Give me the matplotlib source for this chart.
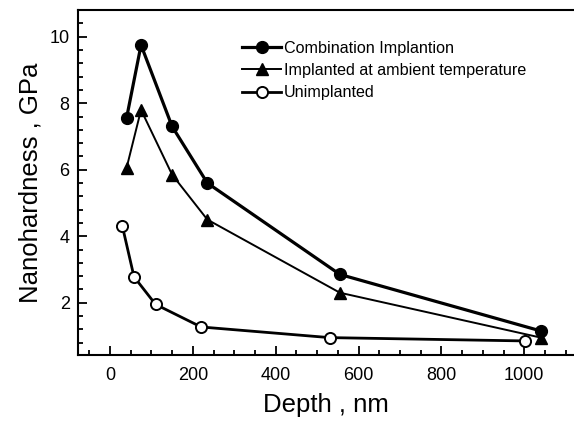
import matplotlib
matplotlib.use("Agg")
import matplotlib.pyplot as plt
from matplotlib.ticker import MultipleLocator

# data
depth_comb = [40, 75, 150, 235, 555, 1040]
hard_comb = [7.55, 9.75, 7.3, 5.6, 2.85, 1.15]

depth_amb = [40, 75, 150, 235, 555, 1040]
hard_amb = [6.05, 7.8, 5.85, 4.5, 2.3, 0.95]

depth_unimp = [30, 58, 110, 220, 530, 1002]
hard_unimp = [4.3, 2.78, 1.95, 1.27, 0.95, 0.85]


def main():
    plt.rcParams['font.family'] = ['Liberation Sans', 'DejaVu Sans']

    fig = plt.figure(figsize=(5.74, 4.21), dpi=100)
    ax = fig.add_axes([0.136, 0.157, 0.864, 0.819])

    ax.plot(depth_comb, hard_comb, color='black', lw=2.3, marker='o',
            ms=8.5, mfc='black', mec='black', label='Combination Implantion')
    ax.plot(depth_amb, hard_amb, color='black', lw=1.4, marker='^',
            ms=9, mfc='black', mec='black', label='Implanted at ambient temperature')
    ax.plot(depth_unimp, hard_unimp, color='black', lw=2.0, marker='o',
            ms=8, mfc='white', mec='black', mew=1.4, label='Unimplanted')

    ax.set_xlim(-77, 1120)
    ax.set_ylim(0.43, 10.8)

    ax.xaxis.set_major_locator(MultipleLocator(200))
    ax.xaxis.set_minor_locator(MultipleLocator(50))
    ax.yaxis.set_major_locator(MultipleLocator(2))
    ax.yaxis.set_minor_locator(MultipleLocator(0.4))

    ax.tick_params(which='both', direction='in', top=False, right=False,
                   width=1.3, labelsize=13)
    ax.tick_params(which='major', length=6.5)
    ax.tick_params(axis='x', which='major', pad=9)
    ax.tick_params(axis='y', which='major', pad=6)
    ax.tick_params(which='minor', length=3.5)

    for side in ['left', 'bottom', 'top']:
        ax.spines[side].set_linewidth(1.5)
    ax.spines['right'].set_visible(False)

    ax.set_xlabel('Depth , nm', fontsize=18.5, labelpad=6)
    ax.set_ylabel('Nanohardness , GPa', fontsize=18.5, labelpad=5)

    ax.legend(loc='upper left', bbox_to_anchor=(0.318, 0.93), frameon=False,
              fontsize=11.6, handlelength=2.4, handletextpad=0.2,
              labelspacing=0.45, borderaxespad=0)

    fig.savefig('out.png', dpi=100)


if __name__ == "__main__":
    main()
